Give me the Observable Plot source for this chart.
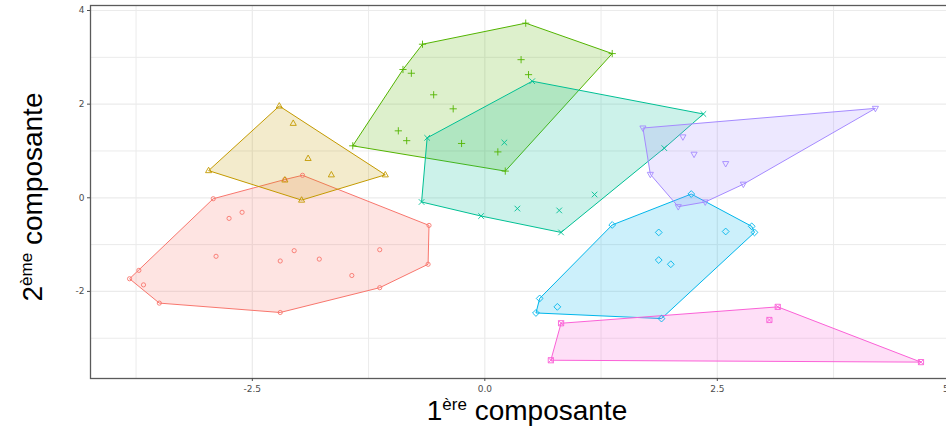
<!DOCTYPE html>
<html>
<head>
<meta charset="utf-8">
<script src="https://cdn.jsdelivr.net/npm/d3@7"></script>
<script src="https://cdn.jsdelivr.net/npm/@observablehq/plot@0.6"></script>
<style>
  html, body { margin: 0; padding: 0; background: #fff; overflow: hidden; }
  #wrap { position: relative; width: 946px; height: 435px; overflow: hidden; }
  #chart svg { max-width: none !important; width: 960px !important; height: 435px !important; }
  .xt { position: absolute; left: 0; width: 1054px; top: 397px; text-align: center;
        font-family: "Liberation Sans", Arial, sans-serif; font-size: 28px; color: #000; line-height: 28px; }
  .yt { position: absolute; left: 33px; top: 197px; width: 260px; margin-left: -130px; margin-top: -14px;
        transform: rotate(-90deg); text-align: center;
        font-family: "Liberation Sans", Arial, sans-serif; font-size: 28px; color: #000; line-height: 28px; }
  sup { font-size: 17px; vertical-align: 0; position: relative; top: -10px; line-height: 0; }
</style>
</head>
<body>
<div id="wrap">
  <div id="chart"></div>
  <div class="xt">1<sup>ère</sup> composante</div>
  <div class="yt">2<sup>ème</sup> composante</div>
</div>
<script>
// ---- data ----
const groupNames = ["1", "2", "3", "4", "5", "6", "7"];
const groupColors = ["#F8766D", "#C49A00", "#53B400", "#00C094", "#00B6EB", "#A58AFF", "#FB61D7"];

const group1 = [[-2.92,-0.02],[-2.75,-0.44],[-2.61,-0.31],[-2.89,-1.25],[-3.72,-1.55],[-3.82,-1.73],
  [-3.67,-1.86],[-3.50,-2.25],[-2.20,-2.45],[-2.20,-1.35],[-2.05,-1.13],[-1.78,-1.31],[-1.43,-1.66],
  [-1.13,-1.11],[-1.13,-1.92],[-0.61,-1.42],[-0.60,-0.59],[-1.96,0.48],[-2.15,0.39]];
const group2 = [[-2.21,1.96],[-2.06,1.59],[-1.90,0.84],[-1.65,0.49],[-1.07,0.49],[-2.97,0.58],
  [-1.97,-0.05],[-2.15,0.38]];
const group3 = [[-1.42,1.11],[-0.67,3.28],[0.44,3.73],[1.37,3.08],[-0.88,2.74],[-0.79,2.66],
  [0.39,2.95],[0.47,2.63],[-0.55,2.20],[-0.34,1.90],[-0.93,1.43],[-0.84,1.22],[-0.25,1.16],
  [0.14,0.98],[0.22,0.57]];
const group4 = [[0.51,2.49],[2.35,1.79],[-0.62,1.28],[0.21,1.18],[-0.68,-0.09],[-0.04,-0.39],
  [0.35,-0.23],[0.80,-0.27],[0.82,-0.74],[1.18,0.07],[1.93,1.06]];
const group5 = [[2.22,0.08],[1.37,-0.58],[2.87,-0.61],[2.90,-0.74],[1.87,-0.74],[2.59,-0.72],
  [1.87,-1.33],[2.00,-1.42],[0.59,-2.15],[0.78,-2.33],[0.55,-2.46],[1.90,-2.58]];
const group6 = [[1.70,1.49],[4.20,1.91],[2.13,1.30],[2.25,0.93],[2.59,0.73],[1.78,0.50],
  [2.78,0.29],[2.37,-0.09],[2.08,-0.19]];
const group7 = [[3.15,-2.33],[3.06,-2.61],[0.82,-2.68],[0.71,-3.47],[4.69,-3.51]];

const xTicks = [-2.5, 0, 2.5, 5];
const xTickLabels = ["-2.5", "0.0", "2.5", "5"];
const yTicks = [-2, 0, 2, 4];
const yTickLabels = ["-2", "0", "2", "4"];
const xMinor = [-3.75, -1.25, 1.25, 3.75];
const yMinor = [-3, -1, 1, 3];

// ---- build table ----
const groups = [group1, group2, group3, group4, group5, group6, group7];
const rows = groups.flatMap((g, i) => g.map(([x, y]) => ({x, y, group: groupNames[i]})));

// ---- symbols (half-extent = r) ----
const rOf = size => Math.sqrt(size / Math.PI);
const symTriUp = {draw(c, s) { const h = rOf(s); c.moveTo(0, -h); c.lineTo(h * 0.9, h * 0.6); c.lineTo(-h * 0.9, h * 0.6); c.closePath(); }};
const symTriDown = {draw(c, s) { const h = rOf(s); c.moveTo(0, h); c.lineTo(h * 0.9, -h * 0.6); c.lineTo(-h * 0.9, -h * 0.6); c.closePath(); }};
const symPlus = {draw(c, s) { const h = rOf(s); c.moveTo(-h, 0); c.lineTo(h, 0); c.moveTo(0, -h); c.lineTo(0, h); }};
const symTimes = {draw(c, s) { const h = rOf(s); c.moveTo(-h, -h); c.lineTo(h, h); c.moveTo(h, -h); c.lineTo(-h, h); }};
const symDiamond = {draw(c, s) { const h = rOf(s); c.moveTo(0, -h); c.lineTo(h, 0); c.lineTo(0, h); c.lineTo(-h, 0); c.closePath(); }};
const symSqCross = {draw(c, s) { const h = rOf(s); c.moveTo(-h, -h); c.lineTo(h, -h); c.lineTo(h, h); c.lineTo(-h, h); c.closePath();
  c.moveTo(-h, -h); c.lineTo(h, h); c.moveTo(h, -h); c.lineTo(-h, h); }};
const symbols = ["circle", symTriUp, symPlus, symTimes, symDiamond, symTriDown, symSqCross];
const sizes = [2.1, 3.4, 3.6, 2.8, 3.4, 3.4, 2.6];

const color = {domain: groupNames, range: groupColors};
const tickLabel = d => xTickLabels[xTicks.indexOf(d)];
const axisStyle = {tickSize: 3, tickPadding: 4, fontSize: 9, color: "#4d4d4d", fontFamily: "DejaVu Sans", label: null};

const marks = [
  Plot.ruleX(xMinor, {stroke: "#ebebeb", strokeWidth: 1}),
  Plot.ruleY(yMinor, {stroke: "#ebebeb", strokeWidth: 1}),
  Plot.ruleX(xTicks, {stroke: "#ebebeb", strokeWidth: 1.2}),
  Plot.ruleY(yTicks, {stroke: "#ebebeb", strokeWidth: 1.2}),
  Plot.hull(rows, {x: "x", y: "y", z: "group", fill: "group", stroke: "group", fillOpacity: 0.2, strokeWidth: 1}),
  ...groupNames.map((name, i) => Plot.dot(rows.filter(d => d.group === name), {
    x: "x", y: "y", stroke: "group", fill: "none", symbol: symbols[i], r: sizes[i], strokeWidth: 0.9
  })),
  Plot.frame({stroke: "#5a5a5a", strokeWidth: 1.3}),
  Plot.axisX(xTicks.slice(0, 3), {...axisStyle, tickFormat: tickLabel}),
  Plot.axisX(xTicks.slice(3), {...axisStyle, tickFormat: tickLabel, textAnchor: "end", dx: -1}),
  Plot.axisY(yTicks, {...axisStyle, tickPadding: 3, tickFormat: d => yTickLabels[yTicks.indexOf(d)]})
];

const chart = Plot.plot({
  width: 960,
  height: 435,
  marginLeft: 90,
  marginRight: 0,
  marginTop: 5,
  marginBottom: 57,
  x: {domain: [-4.24, 5.115]},
  y: {domain: [-3.86, 4.107]},
  color,
  style: {background: "#fff", overflow: "visible", maxWidth: "none"},
  marks
});
document.getElementById("chart").appendChild(chart);
</script>
</body>
</html>
